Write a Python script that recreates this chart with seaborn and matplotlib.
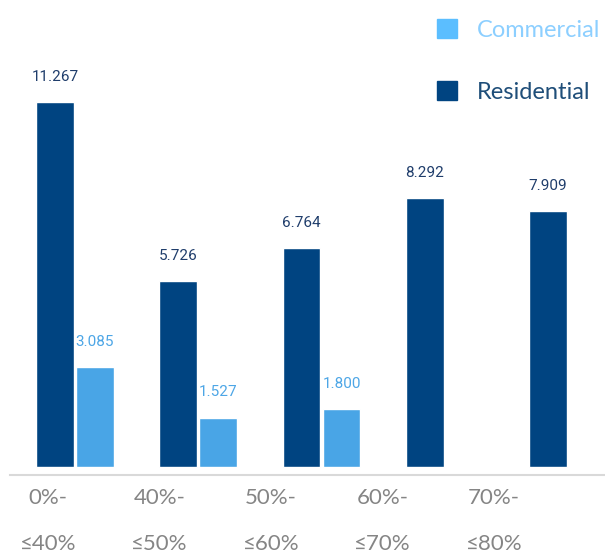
import numpy as np
import pandas as pd
import matplotlib
matplotlib.use("Agg")
import matplotlib.pyplot as plt
import seaborn as sns
from matplotlib.patches import Patch

# ── Data ──
categories = ["0%-\n≤40%", "40%-\n≤50%", "50%-\n≤60%", "60%-\n≤70%", "70%-\n≤80%"]
residential = [11267, 5726, 6764, 8292, 7909]
commercial = [3085, 1527, 1800, np.nan, np.nan]
series = ["Residential", "Commercial"]

RES_COLOR = "#004481"
COM_COLOR = "#49a5e6"

df = pd.DataFrame({
    "band": categories * 2,
    "segment": ["Residential"] * 5 + ["Commercial"] * 5,
    "value": residential + commercial,
}).dropna()

sns.set_style("white")

fig = plt.figure(figsize=(6.05, 5.59), dpi=100)
ax = fig.add_axes([10 / 605, 1 - 475 / 559, 595 / 605, 475 / 559])

sns.barplot(
    data=df, x="band", y="value", hue="segment", order=categories,
    hue_order=series, palette=[RES_COLOR, COM_COLOR],
    width=0.65, gap=0.06, saturation=1, legend=False, ax=ax,
)

ax.set_xlim(-0.527, 4.30)
ax.set_ylim(-247, 14410)

# value labels
fmt = lambda v: f"{v:,.0f}".replace(",", ".")
label_colors = ["#1f3d6b", "#4da6e6"]
for cont, col in zip(ax.containers, label_colors):
    vals = [b.get_height() for b in cont]
    ax.bar_label(cont, labels=[fmt(v) for v in vals], padding=13,
                 color=col, fontsize=11, family="Roboto")

# axis styling
for s in ["top", "right", "left"]:
    ax.spines[s].set_visible(False)
ax.spines["bottom"].set_color("#d9d9d9")
ax.spines["bottom"].set_linewidth(1.5)
ax.set_yticks([])
ax.set_xlabel("")
ax.set_ylabel("")

tick_pos = np.arange(len(categories)) * 0.905 - 0.22
ax.set_xticks(tick_pos)
ax.set_xticklabels(categories, fontsize=16, color="#858585",
                   family="Lato", fontweight="normal", linespacing=2.65)
ax.tick_params(axis="x", length=0, pad=9)

# legend
handles = [Patch(color="#5bbeff"), Patch(color=RES_COLOR)]
leg = fig.legend(
    handles, ["Commercial", "Residential"], loc="upper right",
    bbox_to_anchor=(1.02, 0.995), frameon=False, handlelength=0.85,
    handleheight=0.85, handletextpad=0.85, labelspacing=1.7,
    prop={"family": "Lato", "size": 17, "weight": "normal"},
    borderaxespad=0.3,
)
for txt, col in zip(leg.get_texts(), ["#8ccfff", "#1f4e79"]):
    txt.set_color(col)

fig.savefig("out.png", dpi=100)
